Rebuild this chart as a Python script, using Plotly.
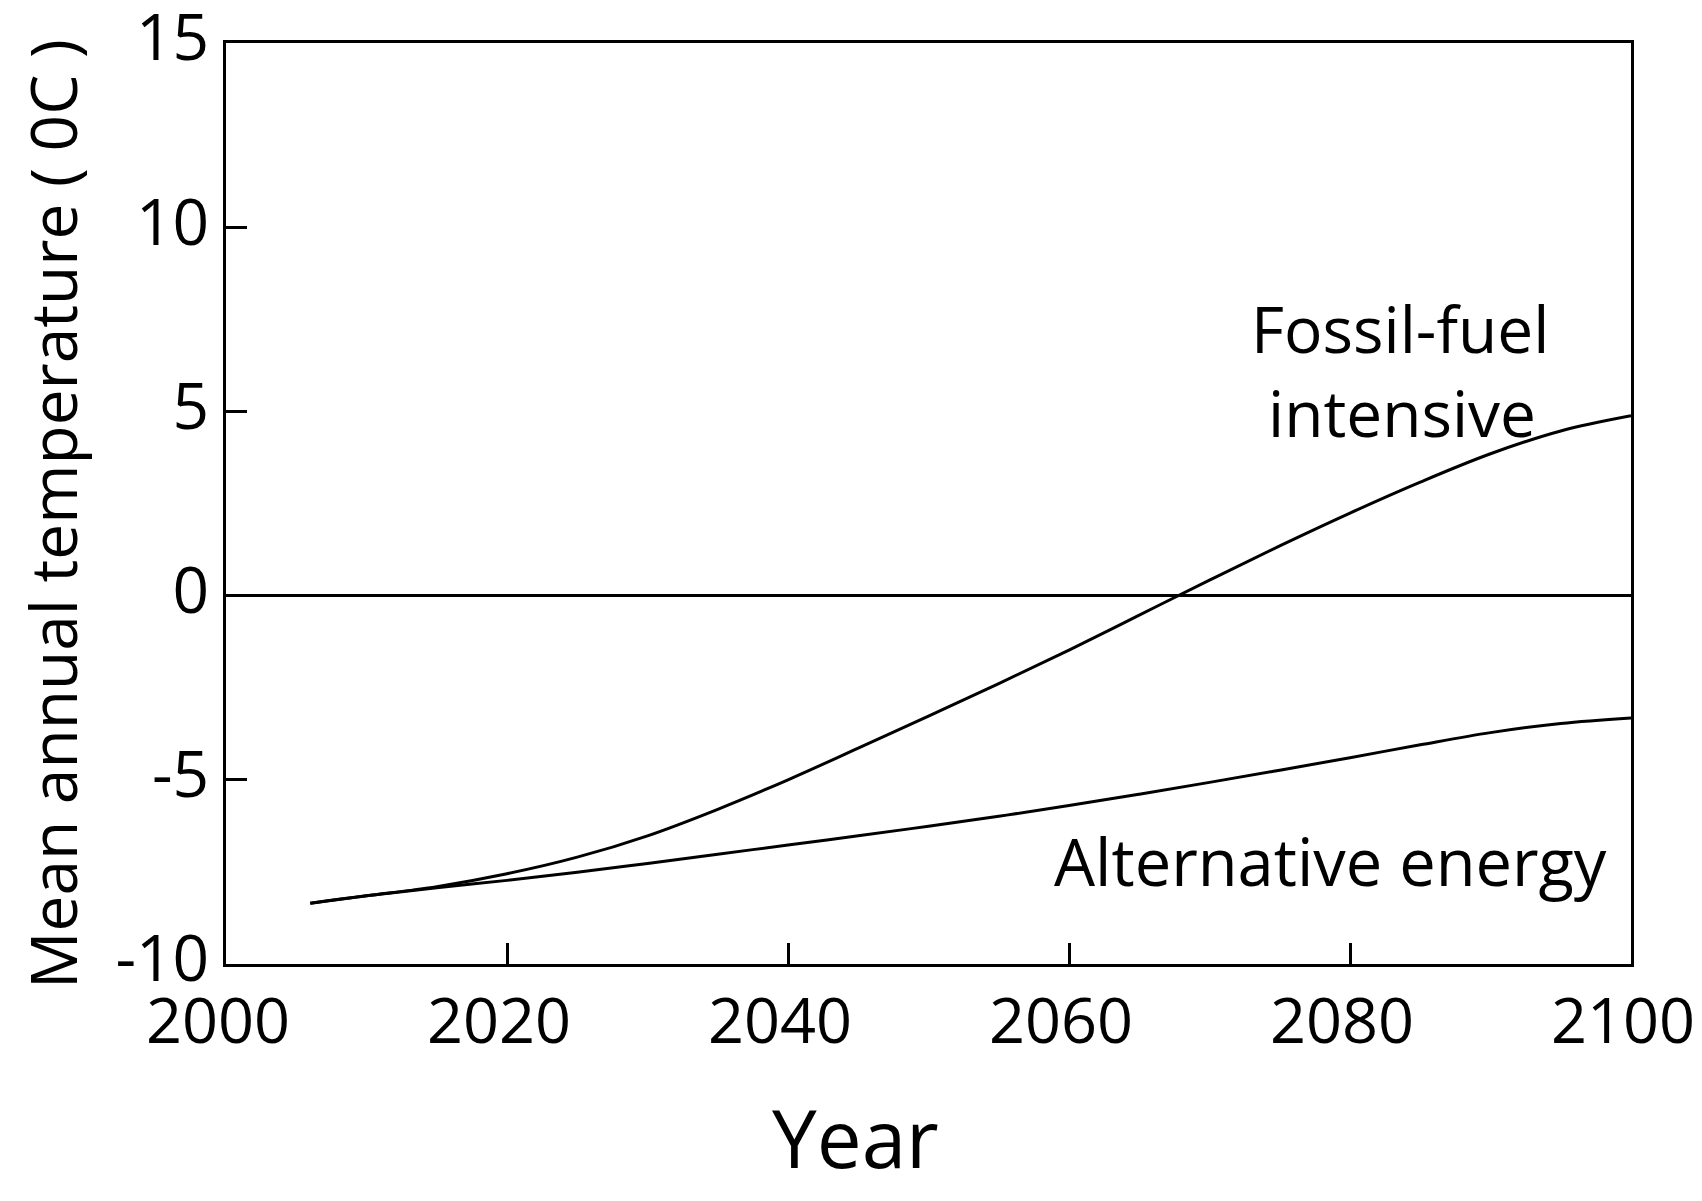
import plotly.graph_objects as go

years = [2006, 2010, 2015, 2020, 2025, 2030, 2035, 2040, 2045, 2050,
         2055, 2060, 2065, 2070, 2075, 2080, 2085, 2090, 2095, 2100]
fossil = [-8.35, -8.15, -7.9, -7.55, -7.1, -6.52, -5.8, -5.0, -4.14, -3.27,
          -2.39, -1.48, -0.53, 0.42, 1.35, 2.24, 3.08, 3.85, 4.47, 4.88]
alternative = [-8.35, -8.15, -7.93, -7.73, -7.51, -7.27, -7.02, -6.77, -6.52, -6.26,
               -5.99, -5.7, -5.39, -5.07, -4.74, -4.4, -4.05, -3.72, -3.47, -3.32]
x_ticks = [2000, 2020, 2040, 2060, 2080, 2100]
y_ticks = [-10, -5, 0, 5, 10, 15]
y_tick_text = ["-10", "-5", "0", "5", "10", "15"]

FONT = "Open Sans"

fig = go.Figure()
fig.add_trace(go.Scatter(x=years, y=fossil, mode="lines", name="Fossil-fuel intensive",
                         line=dict(color="black", width=3, shape="spline", smoothing=1)))
fig.add_trace(go.Scatter(x=years, y=alternative, mode="lines", name="Alternative energy",
                         line=dict(color="black", width=3, shape="spline", smoothing=1)))

# the page body adds an 8px margin, so the figure is sized to fit inside the window
fig.update_layout(
    width=1686, height=1185,
    margin=dict(l=218, r=63, t=35, b=229),
    plot_bgcolor="white", paper_bgcolor="white",
    showlegend=False,
    font=dict(family=FONT, color="black"),
)
fig.update_xaxes(range=[2000, 2100], tickvals=x_ticks, ticks="inside", ticklen=21,
                 tickwidth=2.5, tickcolor="black", showline=True, linecolor="black",
                 linewidth=3, mirror=True, showgrid=False, zeroline=False,
                 tickfont=dict(size=63, family=FONT), ticklabelstandoff=0,
                 ticklabelshift=-8, ticklabeloverflow="allow", automargin=False)
fig.update_yaxes(range=[-10, 15], tickvals=y_ticks, ticktext=y_tick_text,
                 ticks="inside", ticklen=21,
                 tickwidth=2.5, tickcolor="black", showline=True, linecolor="black",
                 linewidth=3, mirror=True, showgrid=False, zeroline=True,
                 zerolinecolor="black", zerolinewidth=2.5,
                 tickfont=dict(size=64, family=FONT), ticklabelstandoff=1,
                 ticklabelshift=-5, ticklabeloverflow="allow", automargin=False)

fig.add_annotation(text="Mean annual temperature ( 0C )", xref="paper", yref="paper",
                   x=-0.1235, y=0.489, textangle=-90, showarrow=False,
                   xanchor="center", yanchor="middle", font=dict(size=64, family=FONT))
fig.add_annotation(text="Year", xref="paper", yref="paper", x=0.448, y=-0.1878,
                   showarrow=False, xanchor="center", yanchor="middle",
                   font=dict(size=80, family=FONT))
fig.add_annotation(text="Fossil-fuel", x=2083.56, y=7.26, showarrow=False,
                   xanchor="center", yanchor="middle", font=dict(size=64, family=FONT))
fig.add_annotation(text="intensive", x=2083.67, y=4.96, showarrow=False,
                   xanchor="center", yanchor="middle", font=dict(size=64, family=FONT))
fig.add_annotation(text="Alternative energy", x=2078.58, y=-7.2, showarrow=False,
                   xanchor="center", yanchor="middle", font=dict(size=65, family=FONT))

fig.write_html("out.html")
